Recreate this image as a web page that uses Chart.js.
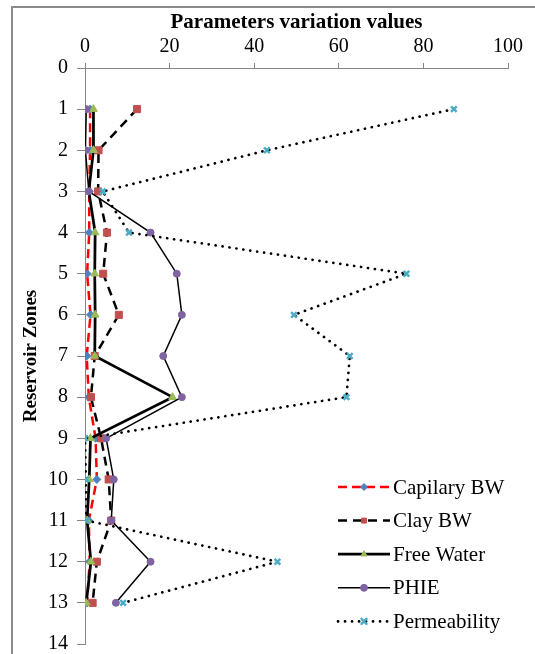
<!DOCTYPE html>
<html><head><meta charset="utf-8">
<script src="https://cdn.jsdelivr.net/npm/chart.js@4/dist/chart.umd.min.js"></script>
<style>html,body{margin:0;padding:0;background:#fff;}canvas{display:block;}</style>
</head><body>
<canvas id="c" width="535" height="654"></canvas>
<script>
// ---- data ----
const zones = [1,2,3,4,5,6,7,8,9,10,11,12,13];
const seriesNames = ['Capilary BW','Clay BW','Free Water','PHIE','Permeability'];
const capilaryBW   = [1.2, 1.2, 1.0, 1.0, 0.5, 1.3, 0.4, 0.9, 2.5, 2.8, 0.9, 1.1, 0.5];
const clayBW       = [12.3, 3.2, 3.1, 5.2, 4.3, 8.0, 2.3, 1.4, 3.8, 5.6, 6.2, 2.8, 1.8];
const freeWater    = [2.0, 2.0, 0.9, 2.4, 2.3, 2.4, 2.3, 20.7, 1.3, 1.0, 0.5, 1.4, 0.3];
const phie         = [0.3, 0.1, 0.9, 15.5, 21.7, 22.9, 18.5, 22.9, 5.0, 6.8, 6.2, 15.5, 7.3];
const permeability = [87.2, 43, 4.2, 10.4, 76, 49.4, 62.6, 61.8, 0, 0.2, 0.3, 45.5, 9];
const xTickValues = [0,20,40,60,80,100];
const yTickValues = [0,1,2,3,4,5,6,7,8,9,10,11,12,13,14];

const pts = arr => arr.map((v,i)=>({x:v, y:zones[i]}));
const serif = "'Liberation Serif','Times New Roman',serif";

function ds(label, arr, o){
  return Object.assign({label, data: pts(arr), showLine:true, tension:0, fill:false,
    borderCapStyle:'butt', pointBorderWidth:1}, o);
}
const datasets = [
  ds(seriesNames[0], capilaryBW, {borderColor:'#FF0000', borderWidth:2.5, borderDash:[9,5],
     pointStyle:'rectRot', pointRadius:4, pointBackgroundColor:'#4F81BD', pointBorderColor:'#4F81BD', order:5}),
  ds(seriesNames[1], clayBW, {borderColor:'#000', borderWidth:2.5, borderDash:[9,6],
     pointStyle:'rect', pointRadius:5, pointBackgroundColor:'#C0504D', pointBorderColor:'#C0504D', order:4}),
  ds(seriesNames[2], freeWater, {borderColor:'#000', borderWidth:2.75,
     pointStyle:'triangle', pointRadius:4.5, pointBackgroundColor:'#9BBB59', pointBorderColor:'#9BBB59', order:3}),
  ds(seriesNames[3], phie, {borderColor:'#000', borderWidth:1.5,
     pointStyle:'circle', pointRadius:3.5, pointBackgroundColor:'#8064A2', pointBorderColor:'#8064A2', order:2}),
  ds(seriesNames[4], permeability, {borderColor:'#000', borderWidth:2.7, borderDash:[0.1,6.9], borderCapStyle:'round',
     pointStyle:'crossRot', pointRadius:4, pointBorderWidth:2.5, pointBackgroundColor:'#4BACC6', pointBorderColor:'#4BACC6', order:1}),
];

const frame = {
  id:'frame',
  beforeDraw(chart){
    const ctx = chart.ctx;
    ctx.save();
    ctx.fillStyle = '#fff';
    ctx.fillRect(0,0,chart.width,chart.height);
    ctx.strokeStyle = '#8a8a8a';
    ctx.lineWidth = 2;
    ctx.strokeRect(12,7,600,700);
    ctx.restore();
  }
};

const legendBox = {
  id:'legendBox',
  afterDraw(chart){
    const ctx = chart.ctx;
    const x0 = 338, x1 = 390, tx = 393, y0 = 487, dy = 33.6;
    chart.data.datasets.forEach((d,i)=>{
      const y = y0 + i*dy;
      ctx.save();
      ctx.strokeStyle = d.borderColor;
      ctx.lineWidth = d.borderWidth;
      ctx.setLineDash(d.borderDash || []);
      ctx.lineCap = d.borderCapStyle || 'butt';
      ctx.beginPath(); ctx.moveTo(x0,y); ctx.lineTo(x1,y); ctx.stroke();
      ctx.setLineDash([]);
      ctx.fillStyle = d.pointBackgroundColor;
      ctx.strokeStyle = d.pointBorderColor;
      ctx.lineWidth = d.pointBorderWidth;
      Chart.helpers.drawPoint(ctx, {pointStyle:d.pointStyle, radius:Math.min(d.pointRadius,3.5), rotation:0, borderWidth:d.pointBorderWidth}, (x0+x1)/2, y);
      ctx.fillStyle = '#000';
      ctx.font = "21px " + serif;
      ctx.textBaseline = 'middle';
      ctx.textAlign = 'left';
      ctx.fillText(d.label, tx, y+1);
      ctx.restore();
    });
  }
};

new Chart(document.getElementById('c'), {
  type:'scatter',
  data:{datasets},
  plugins:[frame, legendBox],
  options:{
    responsive:false,
    animation:false,
    layout:{padding:{top:7,left:14,right:27,bottom:10}},
    plugins:{legend:{display:false}, tooltip:{enabled:false}},
    scales:{
      x:{
        type:'linear', position:'top', min:0, max:100,
        afterBuildTicks: s => { s.ticks = xTickValues.map(v=>({value:v})); },
        afterFit: s => { s.height = 61; s.paddingLeft = 0; s.paddingRight = 0; },
        ticks:{color:'#000', font:{family:serif, size:20}, padding:4, maxRotation:0},
        grid:{drawOnChartArea:false, drawTicks:true, tickLength:5, color:'#868686'},
        border:{color:'#868686', width:1},
        title:{display:true, text:'Parameters variation values', color:'#000',
               font:{family:serif, size:21, weight:'bold'}, padding:{top:3,bottom:0}}
      },
      y:{
        type:'linear', reverse:true, min:0, max:14,
        afterBuildTicks: s => { s.ticks = yTickValues.map(v=>({value:v})); },
        afterFit: s => { s.width = 71; s.paddingTop = 0; s.paddingBottom = 0; },
        ticks:{color:'#000', font:{family:serif, size:20}, padding:9},
        grid:{drawOnChartArea:false, drawTicks:true, tickLength:8, color:'#868686'},
        border:{color:'#868686', width:1},
        title:{display:true, text:'Reservoir Zones', color:'#000',
               font:{family:serif, size:19, weight:'bold'}, padding:{top:6,bottom:0}}
      }
    }
  }
});
</script>
</body></html>
